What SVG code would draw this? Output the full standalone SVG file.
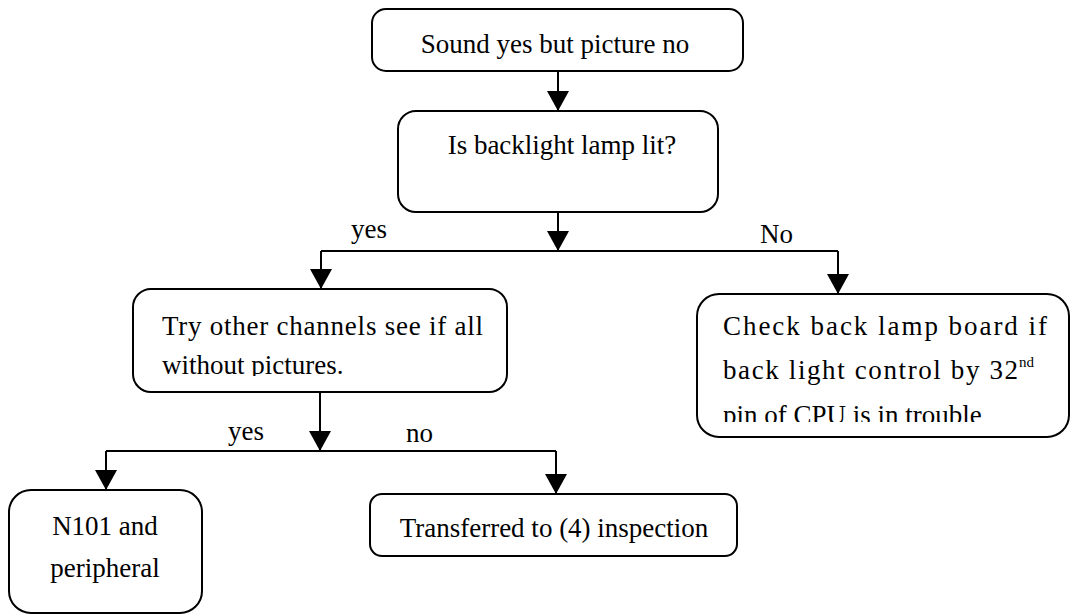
<svg xmlns="http://www.w3.org/2000/svg" width="1072" height="616" viewBox="0 0 1072 616">
<style>
.box{fill:#fff;stroke:#000;stroke-width:2}
.t{font-family:"Liberation Serif","Times New Roman",serif;font-size:27px;fill:#000}
.sup{font-size:15px}
.c{text-anchor:middle}
.ln{fill:none;stroke:#000;stroke-width:2}
</style>
<defs>
<marker id="ah" markerUnits="userSpaceOnUse" markerWidth="24" markerHeight="22" viewBox="0 0 20 22" refX="20" refY="11" orient="auto">
<path d="M0,0 L20,11 L0,22 Z" fill="#000"/>
</marker>
<clipPath id="c3"><rect x="133" y="289" width="374" height="87"/></clipPath>
<clipPath id="c4"><rect x="697" y="294" width="373" height="128"/></clipPath>
</defs>
<rect width="1072" height="616" fill="#fff"/>
<g id="connectors">
<path class="ln" d="M558,71 V111" marker-end="url(#ah)"/>
<path class="ln" d="M558,212 V251" marker-end="url(#ah)"/>
<path class="ln" d="M321,251 H838"/>
<path class="ln" d="M321,251 V289" marker-end="url(#ah)"/>
<path class="ln" d="M838,251 V294" marker-end="url(#ah)"/>
<path class="ln" d="M320,392 V451" marker-end="url(#ah)"/>
<path class="ln" d="M106,451 H556"/>
<path class="ln" d="M106,451 V490" marker-end="url(#ah)"/>
<path class="ln" d="M556,451 V494" marker-end="url(#ah)"/>
<text class="t" x="351" y="238">yes</text>
<text class="t" x="760" y="243">No</text>
<text class="t" x="228" y="440">yes</text>
<text class="t" x="406" y="442">no</text>
</g>
<g id="n1">
<rect class="box" x="372" y="9" width="371" height="62" rx="14"/>
<text class="t c" x="555" y="53">Sound yes but picture no</text>
</g>
<g id="n2">
<rect class="box" x="398" y="111" width="320" height="101" rx="18"/>
<text class="t c" x="562" y="154">Is backlight lamp lit?</text>
</g>
<g id="n3">
<rect class="box" x="133" y="289" width="374" height="103" rx="18"/>
<g clip-path="url(#c3)">
<text class="t" x="162" y="335" textLength="321" lengthAdjust="spacing">Try other channels see if all</text>
<text class="t" x="162" y="374">without pictures.</text>
</g>
</g>
<g id="n4">
<rect class="box" x="697" y="294" width="372" height="143" rx="22"/>
<g clip-path="url(#c4)">
<text class="t" x="723" y="335" textLength="324" lengthAdjust="spacing">Check back lamp board if</text>
<text class="t" x="723" y="379" textLength="295" lengthAdjust="spacing">back light control by 32</text>
<text class="t sup" x="1019" y="367">nd</text>
<text class="t" x="723" y="424">pin of CPU is in trouble</text>
</g>
</g>
<g id="n5">
<rect class="box" x="9" y="490" width="193" height="123" rx="22"/>
<text class="t c" x="105" y="535">N101 and</text>
<text class="t c" x="105" y="577">peripheral</text>
</g>
<g id="n6">
<rect class="box" x="370" y="494" width="367" height="62" rx="12"/>
<text class="t c" x="554" y="537">Transferred to (4) inspection</text>
</g>
</svg>
